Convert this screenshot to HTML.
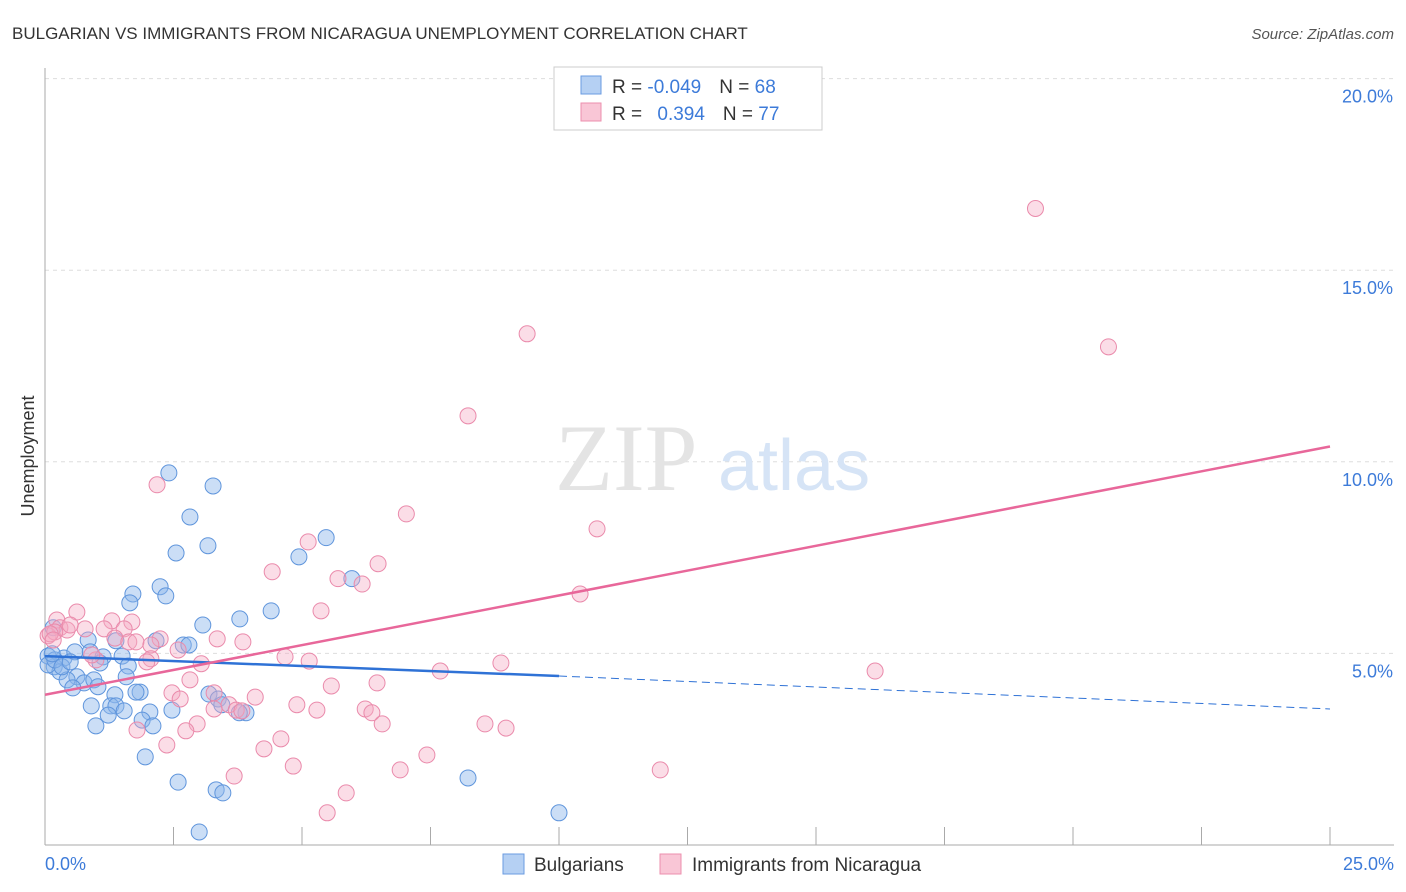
<!DOCTYPE html>
<html><head><meta charset="utf-8">
<style>
body{margin:0;background:#fff;font-family:"Liberation Sans",sans-serif;}
svg{display:block}
</style></head>
<body>
<svg id="chart" width="1406" height="892">
  <text x="12" y="39" font-size="17" fill="#333">BULGARIAN VS IMMIGRANTS FROM NICARAGUA UNEMPLOYMENT CORRELATION CHART</text>
  <text x="1394" y="39" font-size="15" fill="#555" font-style="italic" text-anchor="end">Source: ZipAtlas.com</text>
  <g id="grid"></g>
  <text x="555" y="490" font-size="95" fill="#e4e4e4" font-family="Liberation Serif">ZIP</text>
  <text x="718" y="490" font-size="72" fill="#d6e4f6">atlas</text>
  <g id="marks"></g>
  <text transform="translate(34,456) rotate(-90)" font-size="18" fill="#333" text-anchor="middle">Unemployment</text>
  <text x="45" y="870" font-size="18" fill="#3d7bd9">0.0%</text>
  <text x="1394" y="870" font-size="18" fill="#3d7bd9" text-anchor="end">25.0%</text>
  <g>
    <rect x="554" y="67" width="268" height="63" fill="#fff" stroke="#ccc"/>
    <rect x="581" y="76" width="20" height="18" fill="#b5d0f3" stroke="#6a9be0"/>
    <rect x="581" y="103" width="20" height="18" fill="#f9c6d6" stroke="#ec8fae"/>
    <text x="612" y="93" font-size="19" fill="#333">R = <tspan fill="#3d7bd9">-0.049</tspan><tspan dx="18">N = </tspan><tspan fill="#3d7bd9">68</tspan></text>
    <text x="612" y="120" font-size="19" fill="#333">R = <tspan fill="#3d7bd9" dx="10">0.394</tspan><tspan dx="18">N = </tspan><tspan fill="#3d7bd9">77</tspan></text>
  </g>
  <g>
    <rect x="503" y="854" width="21" height="20" fill="#b5d0f3" stroke="#6a9be0"/>
    <text x="534" y="871" font-size="19" fill="#333">Bulgarians</text>
    <rect x="660" y="854" width="21" height="20" fill="#f9c6d6" stroke="#ec8fae"/>
    <text x="692" y="871" font-size="19" fill="#333">Immigrants from Nicaragua</text>
  </g>
</svg>
<script>
const blueX=[2.41,3.27,2.82,2.55,3.17,4.94,5.47,5.97,2.24,1.71,2.35,1.65,4.40,3.79,3.07,0.16,0.84,1.38,2.16,2.69,2.80,0.06,0.37,0.58,0.88,1.13,1.50,1.07,1.62,0.18,0.29,0.62,0.43,0.76,0.95,0.54,1.03,1.58,1.36,1.85,1.77,3.19,3.37,3.44,0.90,1.28,1.38,1.54,2.04,2.47,1.23,1.89,2.10,0.99,3.91,3.78,1.95,2.59,3.33,3.46,3.00,8.23,10.00,0.06,0.19,0.33,0.49,0.14];
const blueY=[9.71,9.37,8.56,7.62,7.81,7.52,8.02,6.95,6.74,6.55,6.50,6.32,6.11,5.90,5.74,5.67,5.35,5.33,5.33,5.22,5.22,4.93,4.88,5.04,5.04,4.91,4.93,4.75,4.67,4.65,4.52,4.39,4.31,4.23,4.31,4.10,4.13,4.39,3.92,3.99,3.99,3.94,3.81,3.66,3.63,3.63,3.63,3.50,3.47,3.52,3.39,3.26,3.11,3.11,3.45,3.45,2.30,1.64,1.44,1.36,0.34,1.75,0.84,4.70,4.83,4.65,4.78,4.99];
const pinkX=[19.27,9.38,20.69,8.23,2.18,7.03,10.74,5.12,6.48,4.42,5.70,6.17,10.41,5.37,0.62,0.23,1.30,1.69,0.29,0.43,0.78,1.15,1.54,0.06,0.19,1.36,1.63,2.24,1.77,2.06,3.85,3.35,2.59,0.99,2.06,1.98,4.67,5.14,3.04,8.87,7.69,16.15,2.82,5.57,6.46,2.47,3.29,2.63,4.09,4.90,5.29,6.23,6.36,3.58,3.72,3.83,3.29,2.96,6.56,8.56,8.97,1.79,2.74,2.37,4.59,4.26,7.43,4.83,6.91,3.68,11.97,5.86,5.49,0.10,0.16,0.49,0.91];
const pinkY=[16.61,13.34,13.00,11.20,9.40,8.64,8.25,7.91,7.34,7.13,6.95,6.81,6.55,6.11,6.08,5.87,5.85,5.82,5.67,5.61,5.64,5.64,5.64,5.46,5.56,5.40,5.30,5.38,5.30,5.22,5.30,5.38,5.09,4.83,4.86,4.78,4.91,4.80,4.73,4.75,4.54,4.54,4.31,4.15,4.23,3.97,3.97,3.81,3.86,3.66,3.52,3.55,3.45,3.66,3.52,3.50,3.55,3.16,3.16,3.16,3.05,3.00,2.98,2.61,2.77,2.51,2.35,2.06,1.96,1.80,1.96,1.36,0.84,5.51,5.35,5.74,4.96];
const yTicks=[5,10,15,20];
const yTickLabels=["5.0%","10.0%","15.0%","20.0%"];
const xTicks=[0,2.5,5,7.5,10,12.5,15,17.5,20,22.5,25];
const blueTrend=[4.93,4.41,3.55]; // at x=0,10,25
const pinkTrend=[3.92,10.4];      // at x=0,25

const NS="http://www.w3.org/2000/svg";
const sx=v=>45+v*51.4;
const sy=v=>845-v*38.32;
function mk(tag,attrs,parent){const e=document.createElementNS(NS,tag);for(const k in attrs)e.setAttribute(k,attrs[k]);parent.appendChild(e);return e;}
const grid=document.getElementById('grid'),marks=document.getElementById('marks');
yTicks.forEach((t,i)=>{
  const l=mk('line',{x1:45,x2:1394,y1:sy(t),y2:sy(t),stroke:'#ddd','stroke-dasharray':'4,4'},grid);
  
  
  const tx=mk('text',{x:1393,y:sy(t)+24,'font-size':18,fill:'#3d7bd9','text-anchor':'end'},grid);
  tx.textContent=yTickLabels[i];
  
  
});
const ax=mk('line',{x1:45,x2:45,y1:68,y2:845,stroke:'#aaa'},grid);


const bx=mk('line',{x1:45,x2:1394,y1:845,y2:845,stroke:'#aaa'},grid);


xTicks.forEach(t=>{
  const l=mk('line',{x1:sx(t),x2:sx(t),y1:827,y2:845,stroke:'#aaa'},grid);
  
  
});
blueX.forEach((x,i)=>{
  const c=mk('circle',{cx:sx(x),cy:sy(blueY[i]),r:8,fill:'rgba(140,182,235,0.45)',stroke:'#5f95dc','stroke-width':1},marks);
  
  
});
pinkX.forEach((x,i)=>{
  const c=mk('circle',{cx:sx(x),cy:sy(pinkY[i]),r:8,fill:'rgba(245,170,196,0.4)',stroke:'#ea8aab','stroke-width':1},marks);
  
  
});
let t1=mk('line',{x1:sx(0),y1:sy(blueTrend[0]),x2:sx(10),y2:sy(blueTrend[1]),stroke:'#2f72d6','stroke-width':2.5},marks);


let t2=mk('line',{x1:sx(10),y1:sy(blueTrend[1]),x2:sx(25),y2:sy(blueTrend[2]),stroke:'#2f72d6','stroke-width':1,'stroke-dasharray':'8,5'},marks);


let t3=mk('line',{x1:sx(0),y1:sy(pinkTrend[0]),x2:sx(25),y2:sy(pinkTrend[1]),stroke:'#e8679a','stroke-width':2.5},marks);


</script>
</body></html>
